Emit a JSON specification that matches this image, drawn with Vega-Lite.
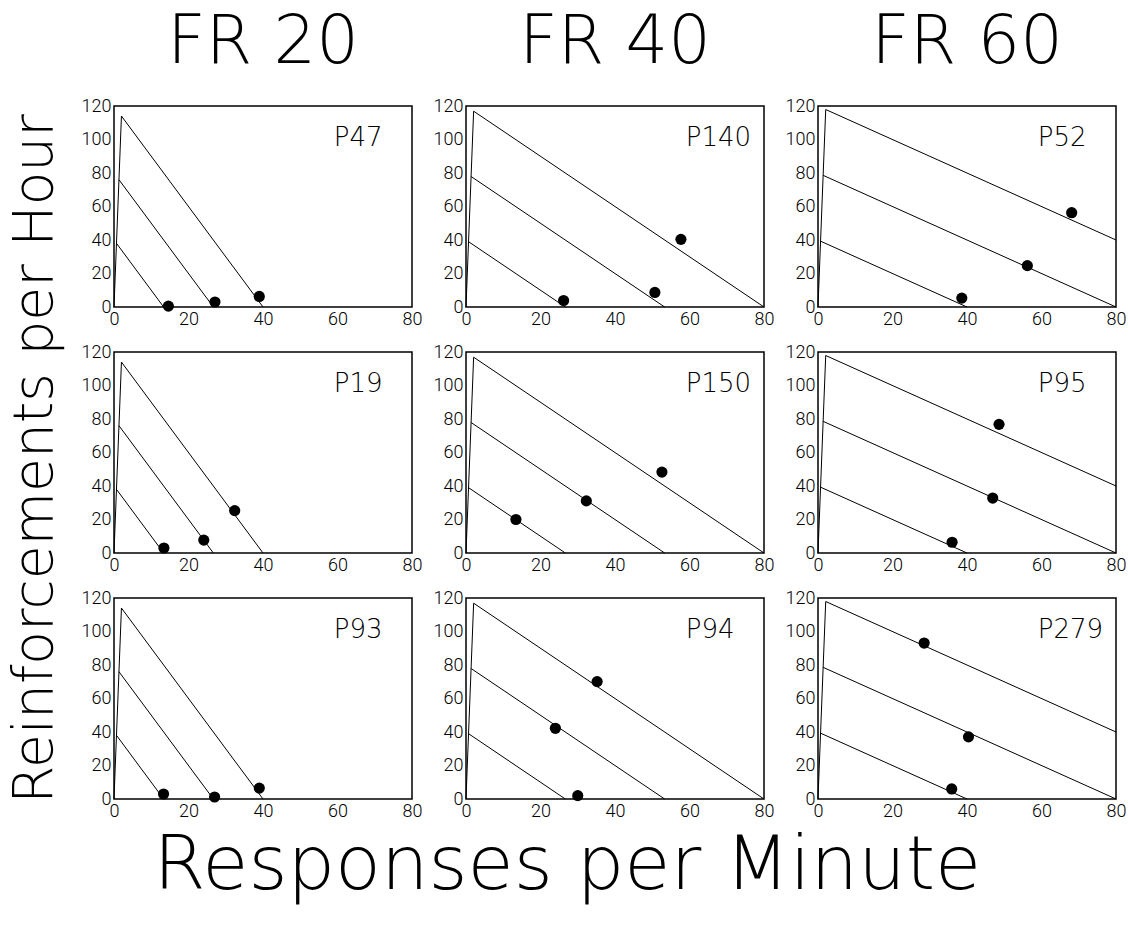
{
  "$schema": "https://vega.github.io/schema/vega-lite/v6.json",
  "padding": {"left": 7, "top": 9, "right": 2, "bottom": 4},
  "data": {"values": [
    {"k":"l","fr":"FR 20","r":1,"s":"a","x":0,"y":0},{"k":"l","fr":"FR 20","r":1,"s":"a","x":2,"y":114},
    {"k":"l","fr":"FR 20","r":1,"s":"b","x":2,"y":114},{"k":"l","fr":"FR 20","r":1,"s":"b","x":40,"y":0},
    {"k":"l","fr":"FR 20","r":1,"s":"c","x":1.33,"y":76},{"k":"l","fr":"FR 20","r":1,"s":"c","x":26.67,"y":0},
    {"k":"l","fr":"FR 20","r":1,"s":"d","x":0.67,"y":38},{"k":"l","fr":"FR 20","r":1,"s":"d","x":13.33,"y":0},
    {"k":"l","fr":"FR 20","r":2,"s":"a","x":0,"y":0},{"k":"l","fr":"FR 20","r":2,"s":"a","x":2,"y":114},
    {"k":"l","fr":"FR 20","r":2,"s":"b","x":2,"y":114},{"k":"l","fr":"FR 20","r":2,"s":"b","x":40,"y":0},
    {"k":"l","fr":"FR 20","r":2,"s":"c","x":1.33,"y":76},{"k":"l","fr":"FR 20","r":2,"s":"c","x":26.67,"y":0},
    {"k":"l","fr":"FR 20","r":2,"s":"d","x":0.67,"y":38},{"k":"l","fr":"FR 20","r":2,"s":"d","x":13.33,"y":0},
    {"k":"l","fr":"FR 20","r":3,"s":"a","x":0,"y":0},{"k":"l","fr":"FR 20","r":3,"s":"a","x":2,"y":114},
    {"k":"l","fr":"FR 20","r":3,"s":"b","x":2,"y":114},{"k":"l","fr":"FR 20","r":3,"s":"b","x":40,"y":0},
    {"k":"l","fr":"FR 20","r":3,"s":"c","x":1.33,"y":76},{"k":"l","fr":"FR 20","r":3,"s":"c","x":26.67,"y":0},
    {"k":"l","fr":"FR 20","r":3,"s":"d","x":0.67,"y":38},{"k":"l","fr":"FR 20","r":3,"s":"d","x":13.33,"y":0},
    {"k":"l","fr":"FR 40","r":1,"s":"a","x":0,"y":0},{"k":"l","fr":"FR 40","r":1,"s":"a","x":2.05,"y":116.9},
    {"k":"l","fr":"FR 40","r":1,"s":"b","x":2.05,"y":116.9},{"k":"l","fr":"FR 40","r":1,"s":"b","x":80,"y":0},
    {"k":"l","fr":"FR 40","r":1,"s":"c","x":1.37,"y":77.9},{"k":"l","fr":"FR 40","r":1,"s":"c","x":53.33,"y":0},
    {"k":"l","fr":"FR 40","r":1,"s":"d","x":0.68,"y":39},{"k":"l","fr":"FR 40","r":1,"s":"d","x":26.67,"y":0},
    {"k":"l","fr":"FR 40","r":2,"s":"a","x":0,"y":0},{"k":"l","fr":"FR 40","r":2,"s":"a","x":2.05,"y":116.9},
    {"k":"l","fr":"FR 40","r":2,"s":"b","x":2.05,"y":116.9},{"k":"l","fr":"FR 40","r":2,"s":"b","x":80,"y":0},
    {"k":"l","fr":"FR 40","r":2,"s":"c","x":1.37,"y":77.9},{"k":"l","fr":"FR 40","r":2,"s":"c","x":53.33,"y":0},
    {"k":"l","fr":"FR 40","r":2,"s":"d","x":0.68,"y":39},{"k":"l","fr":"FR 40","r":2,"s":"d","x":26.67,"y":0},
    {"k":"l","fr":"FR 40","r":3,"s":"a","x":0,"y":0},{"k":"l","fr":"FR 40","r":3,"s":"a","x":2.05,"y":116.9},
    {"k":"l","fr":"FR 40","r":3,"s":"b","x":2.05,"y":116.9},{"k":"l","fr":"FR 40","r":3,"s":"b","x":80,"y":0},
    {"k":"l","fr":"FR 40","r":3,"s":"c","x":1.37,"y":77.9},{"k":"l","fr":"FR 40","r":3,"s":"c","x":53.33,"y":0},
    {"k":"l","fr":"FR 40","r":3,"s":"d","x":0.68,"y":39},{"k":"l","fr":"FR 40","r":3,"s":"d","x":26.67,"y":0},
    {"k":"l","fr":"FR 60","r":1,"s":"a","x":0,"y":0},{"k":"l","fr":"FR 60","r":1,"s":"a","x":2.07,"y":117.9},
    {"k":"l","fr":"FR 60","r":1,"s":"b","x":2.07,"y":117.9},{"k":"l","fr":"FR 60","r":1,"s":"b","x":80,"y":40},
    {"k":"l","fr":"FR 60","r":1,"s":"c","x":1.38,"y":78.6},{"k":"l","fr":"FR 60","r":1,"s":"c","x":80,"y":0},
    {"k":"l","fr":"FR 60","r":1,"s":"d","x":0.69,"y":39.3},{"k":"l","fr":"FR 60","r":1,"s":"d","x":40,"y":0},
    {"k":"l","fr":"FR 60","r":2,"s":"a","x":0,"y":0},{"k":"l","fr":"FR 60","r":2,"s":"a","x":2.07,"y":117.9},
    {"k":"l","fr":"FR 60","r":2,"s":"b","x":2.07,"y":117.9},{"k":"l","fr":"FR 60","r":2,"s":"b","x":80,"y":40},
    {"k":"l","fr":"FR 60","r":2,"s":"c","x":1.38,"y":78.6},{"k":"l","fr":"FR 60","r":2,"s":"c","x":80,"y":0},
    {"k":"l","fr":"FR 60","r":2,"s":"d","x":0.69,"y":39.3},{"k":"l","fr":"FR 60","r":2,"s":"d","x":40,"y":0},
    {"k":"l","fr":"FR 60","r":3,"s":"a","x":0,"y":0},{"k":"l","fr":"FR 60","r":3,"s":"a","x":2.07,"y":117.9},
    {"k":"l","fr":"FR 60","r":3,"s":"b","x":2.07,"y":117.9},{"k":"l","fr":"FR 60","r":3,"s":"b","x":80,"y":40},
    {"k":"l","fr":"FR 60","r":3,"s":"c","x":1.38,"y":78.6},{"k":"l","fr":"FR 60","r":3,"s":"c","x":80,"y":0},
    {"k":"l","fr":"FR 60","r":3,"s":"d","x":0.69,"y":39.3},{"k":"l","fr":"FR 60","r":3,"s":"d","x":40,"y":0},
    {"k":"p","fr":"FR 20","r":1,"x":14.6,"y":0.5},{"k":"p","fr":"FR 20","r":1,"x":27.1,"y":3.0},{"k":"p","fr":"FR 20","r":1,"x":39.0,"y":6.3},
    {"k":"p","fr":"FR 40","r":1,"x":26.2,"y":3.9},{"k":"p","fr":"FR 40","r":1,"x":50.7,"y":8.7},{"k":"p","fr":"FR 40","r":1,"x":57.7,"y":40.4},
    {"k":"p","fr":"FR 60","r":1,"x":38.6,"y":5.3},{"k":"p","fr":"FR 60","r":1,"x":56.2,"y":24.7},{"k":"p","fr":"FR 60","r":1,"x":68.1,"y":56.3},
    {"k":"p","fr":"FR 20","r":2,"x":13.4,"y":3.0},{"k":"p","fr":"FR 20","r":2,"x":24.1,"y":7.7},{"k":"p","fr":"FR 20","r":2,"x":32.4,"y":25.3},
    {"k":"p","fr":"FR 40","r":2,"x":13.4,"y":20.0},{"k":"p","fr":"FR 40","r":2,"x":32.3,"y":31.1},{"k":"p","fr":"FR 40","r":2,"x":52.6,"y":48.3},
    {"k":"p","fr":"FR 60","r":2,"x":36.0,"y":6.4},{"k":"p","fr":"FR 60","r":2,"x":46.9,"y":32.8},{"k":"p","fr":"FR 60","r":2,"x":48.6,"y":76.8},
    {"k":"p","fr":"FR 20","r":3,"x":13.3,"y":3.0},{"k":"p","fr":"FR 20","r":3,"x":27.0,"y":1.2},{"k":"p","fr":"FR 20","r":3,"x":39.0,"y":6.5},
    {"k":"p","fr":"FR 40","r":3,"x":24.0,"y":42.2},{"k":"p","fr":"FR 40","r":3,"x":35.2,"y":70.1},{"k":"p","fr":"FR 40","r":3,"x":30.0,"y":2.0},
    {"k":"p","fr":"FR 60","r":3,"x":28.5,"y":93.1},{"k":"p","fr":"FR 60","r":3,"x":40.4,"y":37.1},{"k":"p","fr":"FR 60","r":3,"x":35.9,"y":6.0},
    {"k":"t","fr":"FR 20","r":1,"lab":"P47"},{"k":"t","fr":"FR 40","r":1,"lab":"P140"},{"k":"t","fr":"FR 60","r":1,"lab":"P52"},
    {"k":"t","fr":"FR 20","r":2,"lab":"P19"},{"k":"t","fr":"FR 40","r":2,"lab":"P150"},{"k":"t","fr":"FR 60","r":2,"lab":"P95"},
    {"k":"t","fr":"FR 20","r":3,"lab":"P93"},{"k":"t","fr":"FR 40","r":3,"lab":"P94"},{"k":"t","fr":"FR 60","r":3,"lab":"P279"}
  ]},
  "facet": {
    "column": {"field": "fr", "type": "nominal", "header": {"title": null, "labelFont": "DejaVu Sans", "labelFontWeight": 200, "labelFontSize": 67, "labelColor": "#000", "labelPadding": 19}},
    "row": {"field": "r", "type": "ordinal", "header": {"title": "Reinforcements per Hour", "labels": false, "titleFont": "DejaVu Sans", "titleFontWeight": 200, "titleFontSize": 55, "titleColor": "#000", "titlePadding": 6}}
  },
  "spacing": {"column": 9, "row": 13},
  "resolve": {"axis": {"x": "independent", "y": "independent"}},
  "title": {"text": "Responses per Minute", "orient": "bottom", "anchor": "middle", "font": "DejaVu Sans", "fontWeight": 200, "fontSize": 75, "color": "#000", "offset": 9},
  "spec": {
    "width": 298,
    "height": 201,
    "layer": [
      {
        "transform": [{"filter": "datum.k === 'l'"}],
        "mark": {"type": "line", "color": "#000", "strokeWidth": 1},
        "encoding": {
          "x": {"field": "x", "type": "quantitative", "scale": {"domain": [0, 80], "nice": false}, "axis": {"values": [0, 20, 40, 60, 80], "labelOverlap": false}},
          "y": {"field": "y", "type": "quantitative", "scale": {"domain": [0, 120], "nice": false}, "axis": {"values": [0, 20, 40, 60, 80, 100, 120], "labelOverlap": false}},
          "detail": {"field": "s"}
        }
      },
      {
        "transform": [{"filter": "datum.k === 'p'"}],
        "mark": {"type": "circle", "color": "#000", "size": 125, "opacity": 1},
        "encoding": {
          "x": {"field": "x", "type": "quantitative", "axis": {"values": [0, 20, 40, 60, 80], "labelOverlap": false}},
          "y": {"field": "y", "type": "quantitative", "axis": {"values": [0, 20, 40, 60, 80, 100, 120], "labelOverlap": false}}
        }
      },
      {
        "transform": [{"filter": "datum.k === 't'"}],
        "mark": {"type": "text", "align": "left", "baseline": "middle", "font": "DejaVu Sans", "fontWeight": 200, "fontSize": 26, "color": "#000"},
        "encoding": {
          "x": {"datum": 59, "type": "quantitative", "axis": {"values": [0, 20, 40, 60, 80], "labelOverlap": false}},
          "y": {"datum": 101, "type": "quantitative", "axis": {"values": [0, 20, 40, 60, 80, 100, 120], "labelOverlap": false}},
          "text": {"field": "lab"}
        }
      }
    ]
  },
  "config": {
    "view": {"stroke": "#000", "strokeWidth": 1.5},
    "axis": {"title": null, "grid": false, "domain": false, "ticks": false, "labelFont": "Roboto", "labelFontWeight": 300, "labelFontSize": 18, "labelColor": "#000", "labelPadding": 3, "labelFlush": false, "labelOverlap": false, "labelSeparation": 0},
    "axisY": {"labelBaseline": "middle"}
  }
}
